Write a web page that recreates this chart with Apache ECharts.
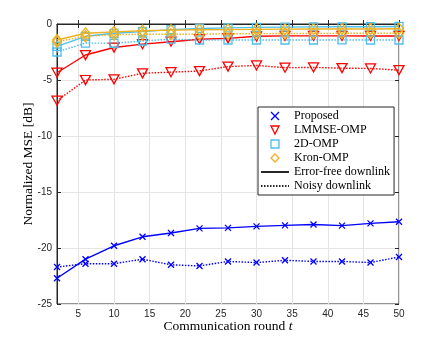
<!DOCTYPE html>
<html>
<head>
    <meta charset="UTF-8">
    <title>Normalized MSE</title>
    <script src="https://cdn.jsdelivr.net/npm/echarts@6/dist/echarts.min.js"></script>
    <style>
        html, body { margin: 0; padding: 0; background: #fff; }
    </style>
</head>
<body>
<div id="main" style="width: 442px;height:342px;"></div>

<script type="text/javascript">
    // communication rounds
    var rounds = [2, 6, 10, 14, 18, 22, 26, 30, 34, 38, 42, 46, 50];
    var xTicks = [5, 10, 15, 20, 25, 30, 35, 40, 45, 50];

    // error-free downlink (solid) / noisy downlink (dotted)
    var proposedFree = [-22.7, -21.0, -19.8, -19.0, -18.66, -18.25, -18.2, -18.07, -17.98, -17.9, -18.0, -17.8, -17.65];
    var proposedNoisy = [-21.7, -21.4, -21.4, -21.0, -21.5, -21.6, -21.2, -21.3, -21.1, -21.2, -21.2, -21.3, -20.8];
    var lmmseFree = [-4.35, -2.77, -2.1, -1.8, -1.58, -1.36, -1.28, -1.1, -1.06, -1.06, -1.06, -1.07, -1.07];
    var lmmseNoisy = [-6.85, -5.0, -4.94, -4.4, -4.3, -4.2, -3.8, -3.7, -3.9, -3.88, -3.94, -3.97, -4.12];
    var omp2dFree = [-2.0, -1.1, -0.83, -0.68, -0.5, -0.4, -0.35, -0.3, -0.28, -0.26, -0.25, -0.24, -0.22];
    var omp2dNoisy = [-2.5, -1.7, -1.72, -1.52, -1.35, -1.43, -1.43, -1.43, -1.43, -1.43, -1.42, -1.43, -1.43];
    var kronFree = [-1.43, -0.83, -0.7, -0.6, -0.55, -0.52, -0.5, -0.48, -0.46, -0.45, -0.45, -0.44, -0.43];
    var kronNoisy = [-1.58, -1.1, -0.95, -0.92, -0.92, -0.9, -0.88, -0.86, -0.85, -0.84, -0.83, -0.83, -0.83];

    var BLUE = '#0000ff', RED = '#ff0000', CYAN = '#4DBEEE', ORANGE = '#EDB120';
    var crossIcon = 'path://M0,0L10,10M10,0L0,10';
    var triIcon = 'path://M0,0L10,0L5,9Z';

    function pairs(vals) {
        return rounds.map(function (r, i) { return [r, vals[i]]; });
    }

    function mk(name, vals, color, symbol, size, dotted) {
        return {
            name: name,
            type: 'line',
            data: pairs(vals),
            symbol: symbol,
            symbolSize: size,
            showAllSymbol: true,
            itemStyle: { color: 'transparent', borderColor: color, borderWidth: 1.3 },
            lineStyle: { color: color, width: 1.4, type: dotted ? [1.5, 1.5] : 'solid' },
            emphasis: { disabled: true },
            animation: false
        };
    }

    function legendMark(name, color) {
        return {
            name: name,
            itemStyle: { color: 'transparent', borderColor: color, borderWidth: 1.3 },
            lineStyle: { opacity: 0 }
        };
    }

    var myChart = echarts.init(document.getElementById('main'));

    var option = {
        backgroundColor: '#fff',
        grid: {
            left: 57, right: 43, top: 24, bottom: 38,
            show: true, borderColor: '#262626', borderWidth: 1
        },
        legend: {
            left: 258, top: 107,
            orient: 'vertical',
            itemWidth: 28, itemHeight: 10, itemGap: 2,
            padding: [3, 4, 3, 2],
            backgroundColor: '#fff',
            borderColor: '#262626', borderWidth: 1,
            textStyle: { fontFamily: 'Liberation Serif', fontSize: 12, lineHeight: 12, color: '#000' },
            data: [
                legendMark('Proposed', BLUE),
                legendMark('LMMSE-OMP', RED),
                legendMark('2D-OMP', CYAN),
                legendMark('Kron-OMP', ORANGE),
                { name: 'Error-free downlink', itemStyle: { opacity: 0 } },
                { name: 'Noisy downlink', itemStyle: { opacity: 0 } }
            ]
        },
        xAxis: [{
            type: 'value', min: 2, max: 50,
            name: 'Communication round {i|t}',
            nameLocation: 'middle', nameGap: 15, nameMoveOverlap: false,
            nameTextStyle: {
                fontFamily: 'Liberation Serif', fontSize: 13.5, color: '#000',
                rich: { i: { fontFamily: 'Liberation Serif', fontStyle: 'italic', fontSize: 13.5, color: '#000' } }
            },
            axisLine: { lineStyle: { color: '#262626' } },
            axisTick: { inside: true, length: 4, customValues: xTicks, lineStyle: { color: '#262626' } },
            axisLabel: { customValues: xTicks, margin: 5, fontFamily: 'Liberation Sans', fontSize: 10, color: '#262626' },
            splitLine: { show: true, lineStyle: { color: '#e5e5e5' } }
        }, {
            type: 'value', min: 2, max: 50, position: 'top',
            axisLine: { show: false },
            axisTick: { inside: true, length: 4, customValues: xTicks, lineStyle: { color: '#262626' } },
            axisLabel: { show: false },
            splitLine: { show: false }
        }],
        yAxis: [{
            type: 'value', min: -25, max: 0, interval: 5,
            name: 'Normalized MSE [dB]',
            nameLocation: 'middle', nameGap: 22, nameMoveOverlap: false,
            nameTextStyle: { fontFamily: 'Liberation Serif', fontSize: 13.5, color: '#000' },
            axisLine: { show: true, lineStyle: { color: '#262626' } },
            axisTick: { show: true, inside: true, length: 4, lineStyle: { color: '#262626' } },
            axisLabel: { margin: 5, fontFamily: 'Liberation Sans', fontSize: 10, color: '#262626' },
            splitLine: { show: true, lineStyle: { color: '#e5e5e5' } }
        }, {
            type: 'value', min: -25, max: 0, interval: 5, position: 'right',
            axisLine: { show: false },
            axisTick: { show: true, inside: true, length: 4, lineStyle: { color: '#262626' } },
            axisLabel: { show: false },
            splitLine: { show: false }
        }],
        series: [
            mk('Proposed', proposedFree, BLUE, crossIcon, 6, false),
            mk('Proposed', proposedNoisy, BLUE, crossIcon, 6, true),
            mk('LMMSE-OMP', lmmseFree, RED, triIcon, [10, 9], false),
            mk('LMMSE-OMP', lmmseNoisy, RED, triIcon, [10, 9], true),
            mk('2D-OMP', omp2dFree, CYAN, 'rect', 8, false),
            mk('2D-OMP', omp2dNoisy, CYAN, 'rect', 8, true),
            mk('Kron-OMP', kronFree, ORANGE, 'diamond', [9, 11], false),
            mk('Kron-OMP', kronNoisy, ORANGE, 'diamond', [9, 11], true),
            {
                name: 'Error-free downlink', type: 'line', data: [], symbol: 'none',
                itemStyle: { color: '#262626' },
                lineStyle: { color: '#262626', width: 1.6, type: 'solid' }
            },
            {
                name: 'Noisy downlink', type: 'line', data: [], symbol: 'none',
                itemStyle: { color: '#262626' },
                lineStyle: { color: '#262626', width: 1.2, type: [1.5, 1.5] }
            }
        ]
    };

    myChart.setOption(option);
</script>
</body>
</html>
